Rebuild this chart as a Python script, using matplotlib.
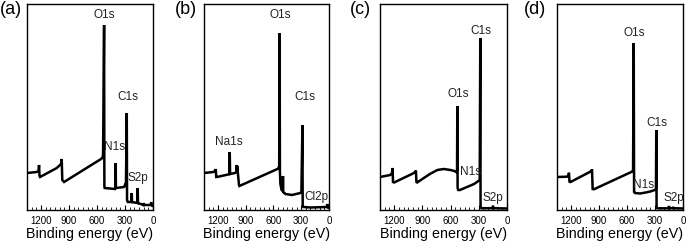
import matplotlib
matplotlib.use("Agg")
import matplotlib.pyplot as plt
from matplotlib.ticker import MultipleLocator

plt.rcParams['font.family'] = ['Liberation Sans', 'DejaVu Sans']

# survey spectra (binding energy in eV, counts in arb. units)
e_a = [1350, 1246, 1226, 1221, 1216, 1210, 1031, 985, 978, 972, 953, 557, 543, 535,
       524, 521, 518, 407, 403, 400, 397, 310, 300, 290, 281, 278, 270, 230, 228, 225,
       167, 164, 161, 103, 100, 97, 22, 20, 18, 0]
h_a = [37, 38, 39, 45, 34, 33, 42, 46, 51, 30, 28, 51, 52, 55,
       185, 24, 22, 21, 22, 47, 22, 23, 25, 24, 97, 10, 8, 8, 17, 8,
       7, 22, 7, 5, 7, 5, 5, 8, 5, 4]

e_b = [1350, 1250, 1226, 1223, 1218, 1210, 1090, 1076, 1072, 1068, 1015, 1000, 996,
       993, 990, 986, 972, 968, 557, 545, 538, 533, 530, 525, 512, 500, 497, 494, 470,
       400, 310, 298, 287, 284, 277, 200, 22, 20, 17, 8, 5, 2, 0]
h_b = [37, 38, 39, 41, 33, 33, 35.5, 36, 58, 36, 37, 38, 45,
       38, 44, 39, 25, 24, 41, 42, 44, 177, 38, 26, 20, 19, 34, 18, 16,
       15, 17, 18, 85, 5, 3, 2.5, 3, 6, 3, 3, 5, 2.5, 2.5]

e_c = [1350, 1242, 1222, 1216, 1212, 1200, 1000, 975, 968, 963, 955, 900, 820, 740,
       673, 600, 560, 540, 531, 528, 525, 518, 500, 450, 400, 350, 319, 290, 284, 281,
       273, 152, 149, 146, 0]
h_c = [33, 35, 37, 42, 28, 27.5, 36.5, 38, 39.5, 28, 27.5, 31, 36, 40,
       41, 40, 39, 38, 40, 104, 22, 20, 20, 22, 24, 26, 28, 30, 172, 3,
       1.8, 1.8, 4.3, 1.8, 1.5]

e_d = [1350, 1243, 1226, 1222, 1216, 1205, 993, 980, 975, 968, 955, 547, 535, 528,
       524, 515, 460, 400, 350, 303, 290, 286, 283, 270, 155, 150, 146, 110, 105, 100, 0]
h_d = [33, 33.3, 35, 37.3, 28.3, 28, 38.3, 39, 40.7, 21, 20.7, 38.3, 40, 167,
       18, 17, 16.5, 17.5, 18.5, 20, 21, 80, 2, 1.7, 1.7, 4, 1.8, 1.8, 3, 1.8, 1.5]

# peak labels: (text, energy, height)
lab_a = [("O1s", 525, 195), ("C1s", 268, 113), ("N1s", 407, 63), ("S2p", 161, 32)]
lab_b = [("O1s", 529, 195), ("C1s", 259, 113), ("Na1s", 1080, 68), ("Cl2p", 140, 13)]
lab_c = [("C1s", 276, 179), ("O1s", 521, 116), ("N1s", 383, 38), ("S2p", 149, 12)]
lab_d = [("O1s", 525, 177), ("C1s", 278, 87), ("N1s", 418, 25), ("S2p", 96, 12)]

panels = ["(a)", "(b)", "(c)", "(d)"]
spectra = [(e_a, h_a, lab_a), (e_b, h_b, lab_b), (e_c, h_c, lab_c), (e_d, h_d, lab_d)]

W, H = 690, 248
fig = plt.figure(figsize=(W / 100, H / 100), dpi=100)

lefts = [27, 204, 380, 557]
rights = [153, 329, 507, 683]
top, bot = 4, 210
tag_x = [11, 186, 360, 535]

for i, (e, h, labs) in enumerate(spectra):
    ax = fig.add_axes([lefts[i] / W, (H - bot) / H,
                       (rights[i] - lefts[i]) / W, (bot - top) / H])
    ax.plot(e, h, color="black", lw=1.8, solid_joinstyle="miter")
    ax.set_xlim(1350, 0)
    ax.set_ylim(0, bot - top)
    ax.xaxis.set_major_locator(MultipleLocator(300))
    ax.xaxis.set_minor_locator(MultipleLocator(50))
    ax.tick_params(axis="x", which="both", direction="in", labelsize=7,
                   top=False, pad=4)
    ax.tick_params(axis="x", which="major", length=3.5, width=0.8)
    ax.tick_params(axis="x", which="minor", length=2, width=0.6)
    ax.set_yticks([])
    for sp in ax.spines.values():
        sp.set_linewidth(1.0)
    ax.set_xlabel("Binding energy (eV)", fontsize=10.3, labelpad=1)
    for txt, xe, yh in labs:
        ax.text(xe, yh, txt, fontsize=8.5, ha="center", va="center",
                color="#222222")
    fig.text(tag_x[i] / W, 1 - 10 / H, panels[i], fontsize=13,
             ha="center", va="center")

fig.savefig("out.png", dpi=100)
